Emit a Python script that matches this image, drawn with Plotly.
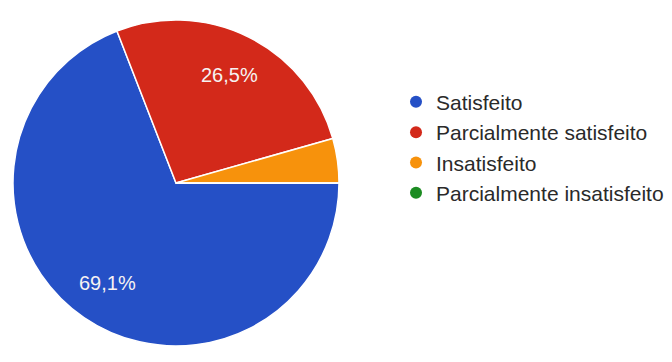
import math
import plotly.graph_objects as go

categories = ["Satisfeito", "Parcialmente satisfeito", "Insatisfeito", "Parcialmente insatisfeito"]
values = [69.1, 26.5, 4.4, 0.0]
colors = ["#2550c6", "#d3291a", "#f7920c", "#1c8c22"]
min_label_pct = 10.0
start_rotation = 90  # first slice begins at 3 o'clock, going clockwise

W, H = 672, 362
pie_dom_x = [0.0074, 0.4926]
pie_dom_y = [0.0663, 0.9669]
label_radius_frac = 0.74

fig = go.Figure()
fig.add_trace(go.Pie(
    labels=categories,
    values=values,
    textinfo="none",
    marker=dict(colors=colors, line=dict(color="#ffffff", width=1.5)),
    sort=False,
    direction="clockwise",
    rotation=start_rotation,
    showlegend=False,
    hoverinfo="label+percent",
    domain=dict(x=pie_dom_x, y=pie_dom_y),
))

# percentage labels placed along each slice's bisector (derived from the data)
total = sum(values)
cx = (pie_dom_x[0] + pie_dom_x[1]) / 2
cy = (pie_dom_y[0] + pie_dom_y[1]) / 2
r_px = min((pie_dom_x[1] - pie_dom_x[0]) * W, (pie_dom_y[1] - pie_dom_y[0]) * H) / 2
cum = 0.0
for v in values:
    mid = math.radians(start_rotation + 360 * (cum + v / 2) / total)
    cum += v
    pct = 100 * v / total
    if pct < min_label_pct:
        continue
    fig.add_annotation(
        x=cx + label_radius_frac * r_px * math.sin(mid) / W,
        y=cy + label_radius_frac * r_px * math.cos(mid) / H,
        xref="paper", yref="paper", xanchor="center", yanchor="middle",
        showarrow=False,
        text=f"{pct:.1f}".replace(".", ",") + "%",
        font=dict(family="Liberation Sans, Arial, sans-serif", size=20, color="#f6f2f2"),
    )

for name, c in zip(categories, colors):
    fig.add_trace(go.Scatter(
        x=[None], y=[None], mode="markers", name=name,
        marker=dict(symbol="circle", size=21, color=c),
        showlegend=True,
    ))

fig.update_layout(
    width=W, height=H,
    margin=dict(l=0, r=0, t=0, b=0),
    paper_bgcolor="#ffffff", plot_bgcolor="#ffffff",
    xaxis=dict(visible=False), yaxis=dict(visible=False),
    legend=dict(
        x=0.5774, y=0.7964, xanchor="left", yanchor="top",
        font=dict(family="Liberation Sans, Arial, sans-serif", size=21, color="#2a2a2a"),
        itemsizing="constant",
        tracegroupgap=0,
        bgcolor="rgba(0,0,0,0)",
    ),
)

fig.write_html("out.html")
